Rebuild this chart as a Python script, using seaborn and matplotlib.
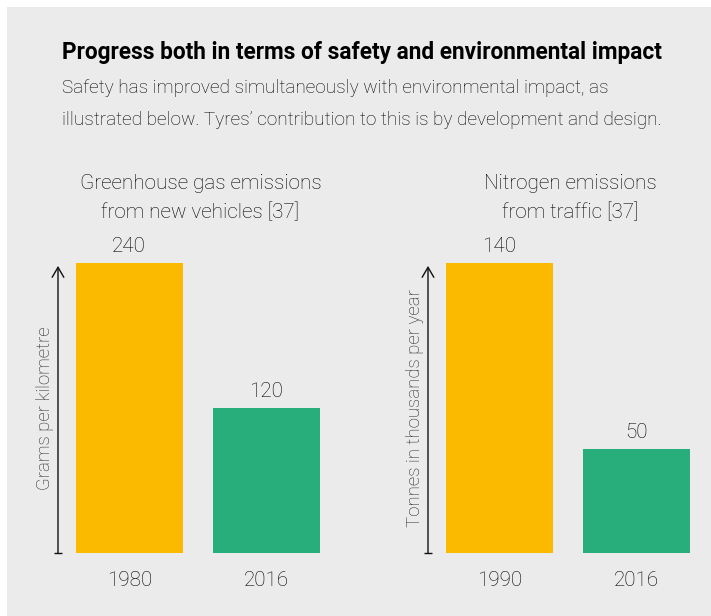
import matplotlib
matplotlib.use("Agg")
import matplotlib.pyplot as plt
import matplotlib.transforms as mtransforms
from matplotlib.patches import Rectangle
import seaborn as sns
import pandas as pd

title = "Progress both in terms of safety and environmental impact"
subtitle = ("Safety has improved simultaneously with environmental impact, as\n"
            "illustrated below. Tyres\u2019 contribution to this is by development and design.")

ghg_years = ["1980", "2016"]
ghg_values = [240, 120]
ghg_title = "Greenhouse gas emissions\nfrom new vehicles [37]"
ghg_ylabel = "Grams per kilometre"

nox_years = ["1990", "2016"]
nox_values = [140, 50]
nox_title = "Nitrogen emissions\nfrom traffic [37]"
nox_ylabel = "Tonnes in thousands per year"

bar_colors = ["#FBBA00", "#27AE7A"]
bg = "#EBEBEB"
txt = "#000000"

sns.set_theme(style="white")
plt.rcParams["font.family"] = ["Roboto", "DejaVu Sans"]

W, H = 711, 616
fig = plt.figure(figsize=(W / 100, H / 100), dpi=100)
fig.patches.append(Rectangle((7 / W, 0), 1, 1 - 7 / H, transform=fig.transFigure,
                             facecolor=bg, edgecolor="none", zorder=-10))

fig.text(62 / W, 1 - 53 / H, title, fontsize=16.3, fontweight="bold", color="#000000",
         va="center", ha="left")
fig.text(62 / W, 1 - 104 / H, subtitle, fontsize=13.7, fontweight="light", color=txt,
         va="center", ha="left", linespacing=1.97)


def panel(left_px, cats, vals, ttl, ylab):
    ax = fig.add_axes([left_px / W, 1 - 553 / H, 263 / W, 290 / H])
    df = pd.DataFrame({"year": cats, "value": vals})
    sns.barplot(data=df, x="year", y="value", hue="year", palette=bar_colors,
                width=0.78, legend=False, ax=ax, saturation=1, linewidth=0)
    ax.set_xlim(-0.52, 1.4)
    ax.set_ylim(0, max(vals))
    ax.set_facecolor("none")
    for s in ax.spines.values():
        s.set_visible(False)
    ax.set_yticks([])
    ax.set_xlabel("")
    ax.set_ylabel(ylab, fontsize=13.4, fontweight="light", color="#222222", labelpad=3)
    ax.tick_params(axis="x", length=0, pad=13, labelsize=14.9, labelcolor=txt)
    for lab in ax.get_xticklabels():
        lab.set_fontweight("light")
    for c in ax.containers:
        ax.bar_label(c, padding=5, fontsize=14.9, color=txt, fontweight="light")
    ax.annotate("", xy=(0, 0.99), xytext=(0, 0), xycoords="axes fraction",
                textcoords="axes fraction",
                arrowprops=dict(arrowstyle="->,head_length=0.6,head_width=0.35",
                                color="#111111", lw=1.0, shrinkA=0, shrinkB=0))
    ax.plot([0], [0], marker="_", markersize=6, color="#111111", mew=1,
            transform=ax.transAxes, clip_on=False)
    tr = mtransforms.blended_transform_factory(ax.transData, fig.transFigure)
    ax.text(0.52, 1 - 198 / H, ttl, transform=tr, ha="center", va="center",
            fontsize=14.9, fontweight="light", color=txt, linespacing=1.66)
    return ax


panel(58, ghg_years, ghg_values, ghg_title, ghg_ylabel)
panel(428, nox_years, nox_values, nox_title, nox_ylabel)

fig.savefig("out.png", dpi=100, facecolor="white")
